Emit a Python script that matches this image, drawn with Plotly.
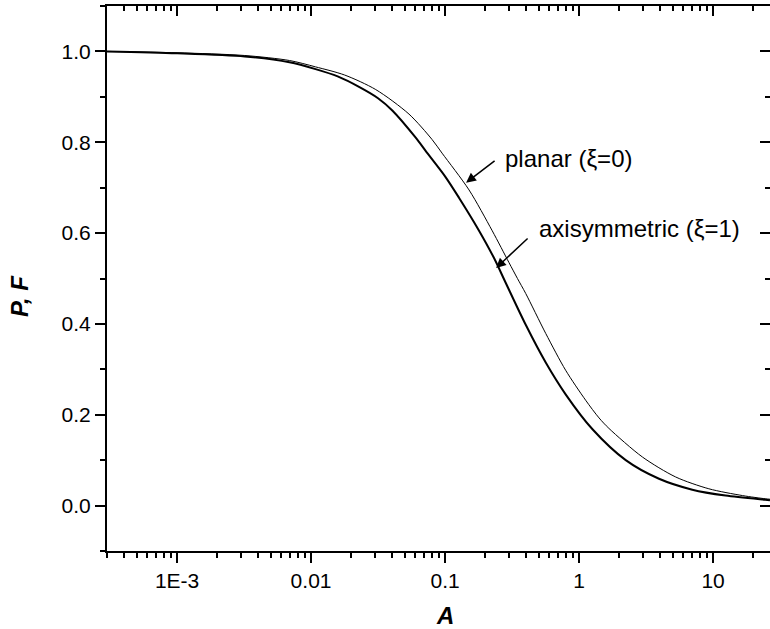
import plotly.graph_objects as go
import numpy as np

# ---- data ----
A_axi = [3e-4, 1e-3, 3.2e-3, 6.9e-3, 0.0108, 0.0158, 0.0228, 0.0316, 0.0404, 0.0604,
         0.0716, 0.100, 0.127, 0.178, 0.232, 0.284, 0.40, 0.564, 0.794, 1.26,
         2.23, 3.95, 7.0, 12.4, 24.5, 26.6]
P_axi = [1.0, 0.996, 0.989, 0.976, 0.961, 0.945, 0.922, 0.897, 0.870, 0.810,
         0.781, 0.725, 0.678, 0.607, 0.545, 0.490, 0.398, 0.315, 0.245, 0.168,
         0.100, 0.059, 0.035, 0.022, 0.013, 0.012]

A_pla = [3e-4, 1e-3, 3.2e-3, 6.9e-3, 0.0108, 0.0178, 0.0304, 0.0538, 0.080, 0.095,
         0.151, 0.225, 0.30, 0.347, 0.40, 0.564, 0.794, 1.12, 1.41, 1.67,
         2.97, 5.26, 9.3, 16.6, 24.5, 26.6]
P_pla = [1.0, 0.997, 0.991, 0.980, 0.966, 0.948, 0.916, 0.862, 0.806, 0.776,
         0.695, 0.605, 0.535, 0.500, 0.467, 0.379, 0.298, 0.232, 0.193, 0.170,
         0.107, 0.063, 0.037, 0.022, 0.015, 0.014]

x_tickvals = [1e-3, 1e-2, 1e-1, 1, 10]
x_ticktext = ["1E-3", "0.01", "0.1", "1", "10"]
y_tickvals = [0.0, 0.2, 0.4, 0.6, 0.8, 1.0]

x_range = [np.log10(3e-4), 1.425]
y_range = [-0.1, 1.1]

FONT = "Liberation Sans, Arial, sans-serif"

minor_vals = [k * 10.0 ** n for n in range(-4, 2) for k in range(2, 10)]

fig = go.Figure()
fig.add_trace(go.Scatter(x=A_axi, y=P_axi, mode="lines",
                         line=dict(color="black", width=2, shape="spline", smoothing=0.8),
                         showlegend=False, hoverinfo="skip"))
fig.add_trace(go.Scatter(x=A_pla, y=P_pla, mode="lines",
                         line=dict(color="black", width=1, shape="spline", smoothing=0.8),
                         showlegend=False, hoverinfo="skip"))
# invisible trace to activate mirror axes
fig.add_trace(go.Scatter(x=A_pla, y=P_pla, mode="lines", xaxis="x2", yaxis="y2",
                         line=dict(width=0), opacity=0, showlegend=False, hoverinfo="skip"))

common_x = dict(type="log", range=x_range, showgrid=False, zeroline=False,
                linecolor="black", linewidth=2, tickcolor="black", tickwidth=2, ticklen=10)
common_y = dict(range=y_range, showgrid=False, zeroline=False,
                linecolor="black", linewidth=2, tickcolor="black", tickwidth=2, ticklen=10)

fig.update_layout(
    width=770, height=629,
    margin=dict(l=107, r=0, t=6, b=78),
    plot_bgcolor="white", paper_bgcolor="white",
    font=dict(family=FONT, color="black"),
    xaxis=dict(**common_x, ticks="outside", tickmode="array", tickvals=x_tickvals, ticktext=x_ticktext,
               tickfont=dict(size=21, family=FONT),
               minor=dict(tickmode="array", tickvals=minor_vals, ticks="outside", ticklen=5,
                          tickwidth=2, tickcolor="black")),
    xaxis2=dict(**common_x, overlaying="x", side="top", ticks="inside", tickmode="array",
                tickvals=x_tickvals, showticklabels=False,
                minor=dict(tickmode="array", tickvals=minor_vals, ticks="inside", ticklen=5,
                           tickwidth=2, tickcolor="black")),
    yaxis=dict(**common_y, ticks="outside", tickmode="array", tickvals=y_tickvals, tickformat=".1f",
               tickfont=dict(size=21, family=FONT),
               minor=dict(dtick=0.1, tick0=0, ticks="outside", ticklen=5, tickwidth=2, tickcolor="black")),
    yaxis2=dict(**common_y, overlaying="y", side="right", ticks="inside", tickmode="array",
                tickvals=y_tickvals, showticklabels=False,
                minor=dict(dtick=0.1, tick0=0, ticks="inside", ticklen=5, tickwidth=2, tickcolor="black")),
)

# axis titles
fig.add_annotation(text="<b><i>A</i></b>", xref="paper", yref="paper", x=0.51, y=-0.119,
                   showarrow=False, font=dict(size=24, family=FONT), xanchor="center", yanchor="middle")
fig.add_annotation(text="<b><i>P, F</i></b>", xref="paper", yref="paper", x=-0.1312, y=0.468,
                   showarrow=False, textangle=-90, font=dict(size=24, family=FONT),
                   xanchor="center", yanchor="middle")

# labels
fig.add_annotation(text="planar (ξ=0)", xref="paper", yref="paper", x=0.597, y=0.721,
                   showarrow=False, font=dict(size=24, family=FONT), xanchor="left", yanchor="middle")
fig.add_annotation(text="axisymmetric (ξ=1)", xref="paper", yref="paper", x=0.6486, y=0.591,
                   showarrow=False, font=dict(size=24, family=FONT), xanchor="left", yanchor="middle")
# arrows
fig.add_annotation(text="", x=-0.843, y=0.711, xref="x", yref="y", ax=30, ay=-23,
                   showarrow=True, arrowhead=2, arrowsize=1.3, arrowwidth=1.5, arrowcolor="black")
fig.add_annotation(text="", x=-0.619, y=0.523, xref="x", yref="y", ax=33, ay=-31,
                   showarrow=True, arrowhead=2, arrowsize=1.3, arrowwidth=1.5, arrowcolor="black")

fig.write_html("out.html")
